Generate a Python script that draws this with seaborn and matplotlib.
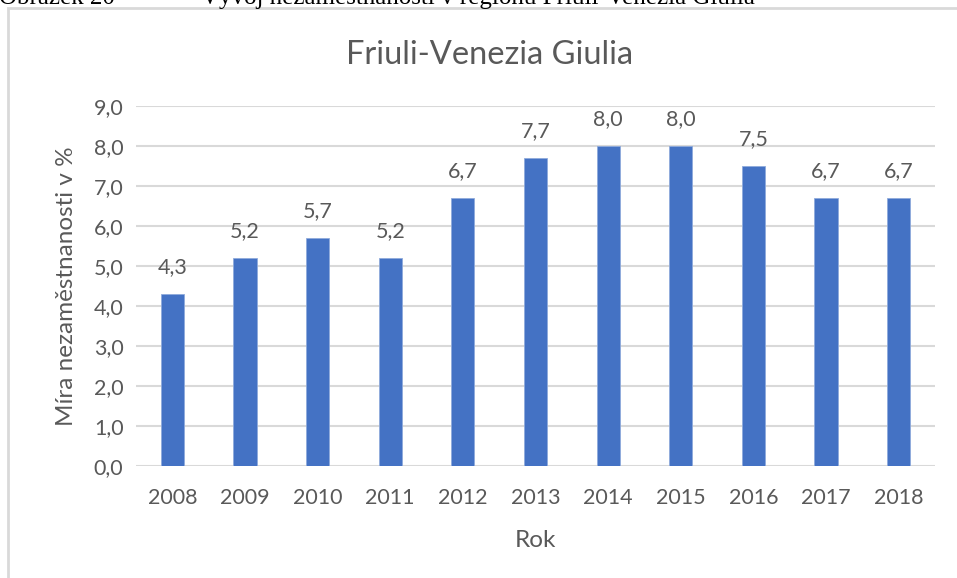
import matplotlib
matplotlib.use("Agg")
import matplotlib.pyplot as plt
import seaborn as sns
import pandas as pd
from matplotlib.patches import Rectangle

years = ["2008", "2009", "2010", "2011", "2012", "2013", "2014", "2015", "2016", "2017", "2018"]
rates = [4.3, 5.2, 5.7, 5.2, 6.7, 7.7, 8.0, 8.0, 7.5, 6.7, 6.7]
yticks = [0, 1, 2, 3, 4, 5, 6, 7, 8, 9]

title = "Friuli-Venezia Giulia"
ylabel = "Míra nezaměstnanosti v %"
xlabel = "Rok"
caption_left = "Obrázek 20"
caption_right = "Vývoj nezaměstnanosti v regionu Friuli-Venezia Giulia"

sns.set_theme(style="white")
plt.rcParams['font.family'] = ['Lato', 'DejaVu Sans']

df = pd.DataFrame({"year": years, "rate": rates})

fig = plt.figure(figsize=(9.57, 5.78), dpi=100)
ax = fig.add_axes([136/957, 1-466/578, (935-136)/957, (466-106)/578])

sns.barplot(data=df, x="year", y="rate", ax=ax, color="#4472C4", saturation=1,
            width=0.32, edgecolor="#8FAADC", linewidth=0.6, zorder=3)

gray = "#595959"
ax.set_ylim(0, 9)
ax.set_xlim(-0.5, len(years) - 0.5)
ax.set_yticks(yticks)
ax.set_yticklabels([f"{v:.1f}".replace(".", ",") for v in yticks])
ax.yaxis.grid(True, color="#D9D9D9", linewidth=1.5, zorder=0)
ax.set_axisbelow(True)
for s in ax.spines.values():
    s.set_visible(False)
ax.tick_params(axis="both", length=0, labelsize=15.5, labelcolor=gray)
ax.tick_params(axis="x", pad=16)
ax.tick_params(axis="y", pad=9)

for i, v in enumerate(rates):
    ax.annotate(f"{v:.1f}".replace(".", ","), (i, v), xytext=(0, 12),
                textcoords="offset points", ha="center", va="bottom",
                fontsize=15.5, color=gray)

ax.set_xlabel(xlabel, fontsize=17.5, color=gray, labelpad=16)
ax.set_ylabel(ylabel, fontsize=17.5, color=gray, labelpad=12)

fig.text(490/957, 1-55/578, title, ha="center", va="center", fontsize=23.5, color=gray)

# outer chart frame
fig.patches.append(Rectangle((8/957, -0.05), 1.1, 1-8/578+0.05, transform=fig.transFigure,
                             fill=False, edgecolor="#D9D9D9", linewidth=2, zorder=0))

# cropped caption at the very top
fig.text(-1/957, 1-4/578, caption_left, ha="left", va="baseline", fontsize=18,
         family="Liberation Serif", color="black")
fig.text(201/957, 1-4/578, caption_right, ha="left", va="baseline", fontsize=18,
         family="Liberation Serif", color="black")

fig.savefig("out.png", dpi=100, facecolor="white")
